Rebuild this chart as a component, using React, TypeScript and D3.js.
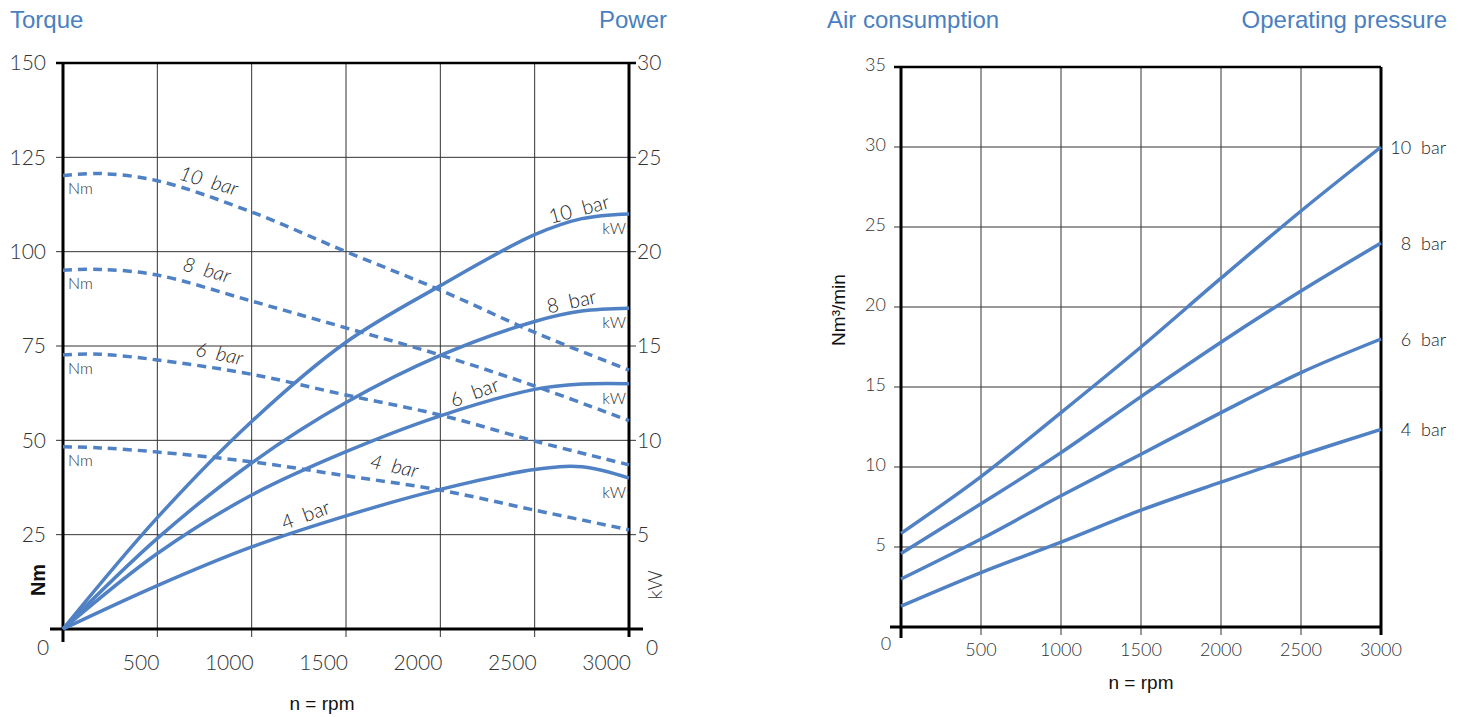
import * as d3 from 'd3'

const W = 1465, H = 717
const BLUE = '#4f81c4'
const TITLE = '#4a7fc1'
const GRID = '#333'
const TXT = '#333'
const TICK_FONT = 'Lato, "Open Sans", sans-serif'
const HEAD_FONT = '"Liberation Sans", Arial, sans-serif'

// tick values
const rpmTicks = [0, 500, 1000, 1500, 2000, 2500, 3000]
const torqueTicks = [0, 25, 50, 75, 100, 125, 150]
const powerTicks = [0, 5, 10, 15, 20, 25, 30]
const airTicks = [0, 5, 10, 15, 20, 25, 30, 35]

// torque (Nm), dashed
const torqueRpm = [0, 200, 500, 1000, 1500, 2000, 2500, 3000]
const torque10 = [120.2, 120.7, 118.8, 110.5, 100, 89.8, 78.6, 68.6]
const torque8 = [95.1, 95.3, 93.8, 86.9, 79.8, 72.6, 64.4, 55.2]
const torque6 = [72.7, 72.8, 71.3, 67.5, 62.0, 56.7, 49.8, 43.5]
const torque4 = [48.3, 48.0, 46.9, 44.3, 40.6, 36.8, 31.5, 26.3]

// power (kW), solid
const powerRpm = [0, 500, 1000, 1500, 2000, 2500, 2750, 3000]
const power10 = [0, 5.9, 11.0, 15.2, 18.2, 20.9, 21.75, 22.0]
const power8 = [0, 4.8, 8.8, 12.0, 14.5, 16.3, 16.85, 17.0]
const power6 = [0, 4.0, 7.1, 9.4, 11.3, 12.7, 12.98, 13.0]
const power4 = [0, 2.3, 4.35, 6.0, 7.4, 8.45, 8.6, 8.0]

// air consumption (Nm³/min)
const airRpm = [0, 500, 1000, 1500, 2000, 2500, 3000]
const air10 = [5.85, 9.4, 13.4, 17.5, 21.8, 26.0, 30.0]
const air8 = [4.6, 7.7, 10.9, 14.4, 17.8, 21.0, 24.0]
const air6 = [3.0, 5.5, 8.2, 10.8, 13.4, 15.9, 18.0]
const air4 = [1.3, 3.4, 5.3, 7.3, 9.05, 10.75, 12.35]

const pressures = ['10', '8', '6', '4']
const torqueSeries = [torque10, torque8, torque6, torque4]
const powerSeries = [power10, power8, power6, power4]
const airSeries = [air10, air8, air6, air4]

// label anchors in data units: [rpm, value, angle]
const torqueLabelPos = [[763, 117.0, 16], [753, 93.4, 15], [822, 71.2, 12], [1749, 41.4, 12]]
const powerLabelPos = [[2745, 21.9, -15], [2703, 17.0, -12], [2194, 12.2, -20], [1299, 5.7, -20]]

const xL = d3.scaleLinear([0, 3000], [63, 629])
const yT = d3.scaleLinear([0, 150], [629, 63])
const yP = d3.scaleLinear([0, 30], [629, 63])

const xR = d3.scaleLinear([0, 3000], [901, 1381])
const yA = d3.scaleLinear([0, 35], [627, 67])

function path(xs: number[], ys: number[], x: any, y: any) {
  const line = d3.line<number>()
    .x((_, i) => x(xs[i]))
    .y(d => y(d))
    .curve(d3.curveCatmullRom.alpha(0.5))
  return line(ys) || ''
}

function LeftChart() {
  return (
    <g>
      <text x={10} y={28} fill={TITLE} fontSize={24} fontFamily={HEAD_FONT}>Torque</text>
      <text x={667} y={28} fill={TITLE} fontSize={24} fontFamily={HEAD_FONT} textAnchor="end">Power</text>

      {/* grid */}
      {rpmTicks.filter(d => d > 0 && d < 3000).map(d => (
        <line key={'gx' + d} x1={xL(d)} x2={xL(d)} y1={yT(150)} y2={yT(0) + 8} stroke={GRID} strokeWidth={1} />
      ))}
      {torqueTicks.filter(d => d > 0 && d < 150).map(d => (
        <line key={'gy' + d} x1={xL(0) - 7} x2={xL(3000) + 7} y1={yT(d)} y2={yT(d)} stroke={GRID} strokeWidth={1} />
      ))}

      {/* frame */}
      <line x1={xL(0) - 7} x2={xL(3000) + 7} y1={yT(150)} y2={yT(150)} stroke="#000" strokeWidth={2.5} />
      <line x1={xL(0) - 13} x2={xL(3000) + 14} y1={yT(0)} y2={yT(0)} stroke="#000" strokeWidth={3} />
      <line x1={xL(0)} x2={xL(0)} y1={yT(150)} y2={yT(0) + 13} stroke="#000" strokeWidth={3} />
      <line x1={xL(3000)} x2={xL(3000)} y1={yT(150)} y2={yT(0) + 8} stroke="#000" strokeWidth={3} />

      {/* tick labels */}
      {torqueTicks.filter(d => d > 0).map(d => (
        <text key={'tl' + d} x={46} y={yT(d)} dy="0.35em" textAnchor="end" fontSize={21} fill={TXT} fontFamily={TICK_FONT} fontWeight={300}>{d}</text>
      ))}
      {powerTicks.filter(d => d > 0).map(d => (
        <text key={'pl' + d} x={637} y={yP(d)} dy="0.35em" fontSize={21} fill={TXT} fontFamily={TICK_FONT} fontWeight={300}>{d}</text>
      ))}
      {rpmTicks.filter(d => d > 0).map(d => (
        <text key={'xl' + d} x={xL(d) + 2} y={670} textAnchor="end" fontSize={21} fill={TXT} fontFamily={TICK_FONT} fontWeight={300}>{d}</text>
      ))}
      <text x={43} y={655} textAnchor="middle" fontSize={21} fill={TXT} fontFamily={TICK_FONT} fontWeight={300}>0</text>
      <text x={652} y={655} textAnchor="middle" fontSize={21} fill={TXT} fontFamily={TICK_FONT} fontWeight={300}>0</text>

      <text x={322} y={710} textAnchor="middle" fontSize={19} fill="#111" fontFamily={HEAD_FONT}>n = rpm</text>
      <text transform="translate(45,580) rotate(-90)" textAnchor="middle" fontSize={20} fill="#111" fontFamily={HEAD_FONT} fontWeight="bold">Nm</text>
      <text transform="translate(662,585) rotate(-90)" textAnchor="middle" fontSize={20} fill={TXT} fontFamily={TICK_FONT} fontWeight={300}>kW</text>

      {/* curves */}
      {torqueSeries.map((s, i) => (
        <path key={'t' + i} d={path(torqueRpm, s, xL, yT)} fill="none" stroke={BLUE} strokeWidth={3.5} strokeDasharray="9 6" />
      ))}
      {powerSeries.map((s, i) => (
        <path key={'p' + i} d={path(powerRpm, s, xL, yP)} fill="none" stroke={BLUE} strokeWidth={3.5} />
      ))}

      {/* labels */}
      {torqueSeries.map((s, i) => (
        <text key={'nm' + i} x={68} y={yT(s[0]) + 19} fontSize={16} fill={TXT} fontFamily={TICK_FONT} fontWeight={300}>Nm</text>
      ))}
      {torqueLabelPos.map(([r, v, a], i) => (
        <text key={'tlb' + i} transform={`translate(${xL(r)},${yT(v)}) rotate(${a})`} textAnchor="middle" fontSize={20} fill="#222" fontFamily={TICK_FONT} fontWeight={300} fontStyle="italic" xmlSpace="preserve">{pressures[i] + '  bar'}</text>
      ))}
      {powerLabelPos.map(([r, v, a], i) => (
        <text key={'plb' + i} transform={`translate(${xL(r)},${yP(v)}) rotate(${a})`} textAnchor="middle" fontSize={20} fill="#222" fontFamily={TICK_FONT} fontWeight={300} xmlSpace="preserve">{pressures[i] + '  bar'}</text>
      ))}
      {powerSeries.map((s, i) => (
        <text key={'kw' + i} x={626} y={yP(s[s.length - 1]) + 20} textAnchor="end" fontSize={16} fill={TXT} fontFamily={TICK_FONT} fontWeight={300}>kW</text>
      ))}
    </g>
  )
}

function RightChart() {
  return (
    <g>
      <text x={827} y={28} fill={TITLE} fontSize={24} fontFamily={HEAD_FONT}>Air consumption</text>
      <text x={1447} y={28} fill={TITLE} fontSize={24} fontFamily={HEAD_FONT} textAnchor="end">Operating pressure</text>

      {rpmTicks.filter(d => d > 0 && d < 3000).map(d => (
        <line key={'gx' + d} x1={xR(d)} x2={xR(d)} y1={yA(35)} y2={yA(0) + 8} stroke={GRID} strokeWidth={1} />
      ))}
      {airTicks.filter(d => d > 0 && d < 35).map(d => (
        <line key={'gy' + d} x1={xR(0) - 7} x2={xR(3000)} y1={yA(d)} y2={yA(d)} stroke={GRID} strokeWidth={1} />
      ))}

      <line x1={xR(0) - 7} x2={xR(3000)} y1={yA(35)} y2={yA(35)} stroke="#000" strokeWidth={2.5} />
      <line x1={xR(0) - 11} x2={xR(3000)} y1={yA(0)} y2={yA(0)} stroke="#000" strokeWidth={3} />
      <line x1={xR(0)} x2={xR(0)} y1={yA(35)} y2={yA(0) + 11} stroke="#000" strokeWidth={3} />
      <line x1={xR(3000)} x2={xR(3000)} y1={yA(35)} y2={yA(0) + 8} stroke="#000" strokeWidth={3} />

      {airTicks.filter(d => d > 0).map(d => (
        <text key={'yl' + d} x={886} y={yA(d)} dy="0.2em" textAnchor="end" fontSize={18} fill={TXT} fontFamily={TICK_FONT} fontWeight={300}>{d}</text>
      ))}
      {rpmTicks.filter(d => d > 0).map(d => (
        <text key={'xl' + d} x={xR(d)} y={656} textAnchor="middle" fontSize={18} fill={TXT} fontFamily={TICK_FONT} fontWeight={300}>{d}</text>
      ))}
      <text x={886} y={650} textAnchor="middle" fontSize={18} fill={TXT} fontFamily={TICK_FONT} fontWeight={300}>0</text>

      <text x={1141} y={689} textAnchor="middle" fontSize={19} fill="#111" fontFamily={HEAD_FONT}>n = rpm</text>
      <text transform="translate(845,310) rotate(-90)" textAnchor="middle" fontSize={19} fill="#111" fontFamily={HEAD_FONT}>Nm³/min</text>

      {airSeries.map((s, i) => (
        <path key={'a' + i} d={path(airRpm, s, xR, yA)} fill="none" stroke={BLUE} strokeWidth={3.5} />
      ))}
      {airSeries.map((s, i) => (
        <text key={'al' + i} x={1446} y={yA(s[s.length - 1]) + 7} textAnchor="end" fontSize={18} fill="#222" fontFamily={TICK_FONT} fontWeight={300} xmlSpace="preserve">{pressures[i] + '  bar'}</text>
      ))}
    </g>
  )
}

export default function App() {
  return (
    <div style={{ position: 'fixed', left: 0, top: 0, background: '#fff' }}>
      <svg width={W} height={H} style={{ display: 'block', whiteSpace: 'pre' }}>
        <rect width={W} height={H} fill="#fff" />
        <LeftChart />
        <RightChart />
      </svg>
    </div>
  )
}
